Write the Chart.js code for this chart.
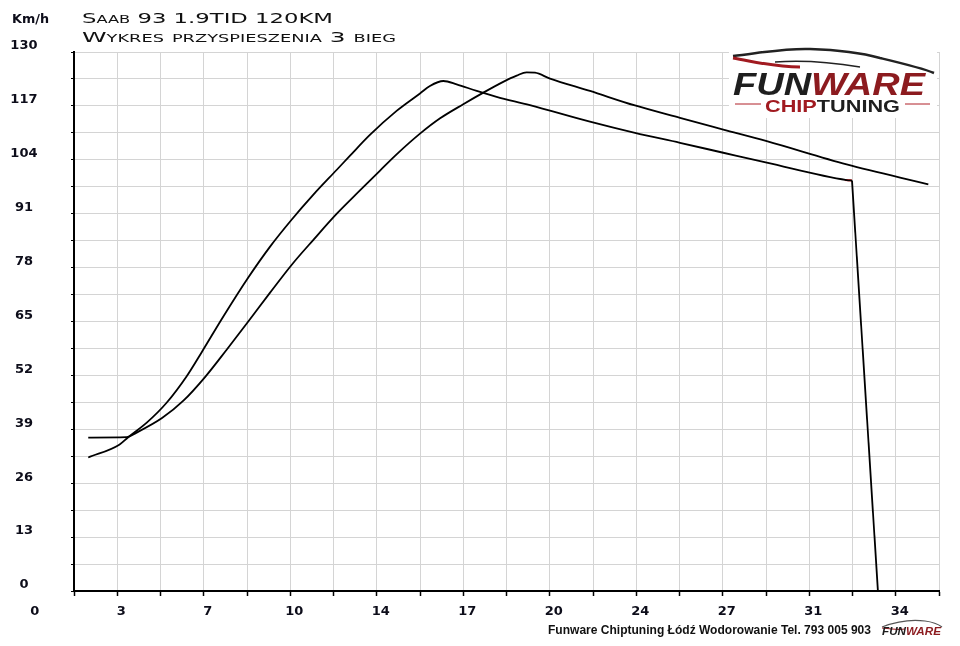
<!DOCTYPE html>
<html><head><meta charset="utf-8">
<script src="https://cdn.jsdelivr.net/npm/chart.js@4.4.1/dist/chart.umd.min.js"></script>
<style>
html,body{margin:0;padding:0;background:#fff;width:960px;height:646px;overflow:hidden}
#wrap{position:relative;width:960px;height:646px}
canvas{position:absolute;left:0;top:0}
svg{position:absolute;left:0;top:0;pointer-events:none}
</style></head><body>
<div id="wrap">
<canvas id="c" width="960" height="646"></canvas>
<svg width="960" height="646" xmlns="http://www.w3.org/2000/svg">
  <text x="12" y="23" font-family="DejaVu Sans" font-weight="bold" font-size="13" fill="#0d0d1a" textLength="37" lengthAdjust="spacingAndGlyphs">Km/h</text>
  <text x="82" y="23" font-family="DejaVu Sans" font-size="14" style="font-variant:small-caps" fill="#111" textLength="251" lengthAdjust="spacingAndGlyphs">Saab 93 1.9TID 120KM</text>
  <text x="82" y="42" font-family="DejaVu Sans" font-size="14" style="font-variant:small-caps" fill="#111" textLength="314" lengthAdjust="spacingAndGlyphs">Wykres przyspieszenia 3 bieg</text>

  <rect x="729" y="44" width="208" height="74" fill="#fff"/>
  <path d="M733 56 C 760 53, 785 48, 810 49 C 840 50, 862 53, 880 58 C 905 64, 922 68, 934 73" stroke="#222" stroke-width="2.5" fill="none"/>
  <path d="M775 62 C 800 60, 830 62, 860 67" stroke="#222" stroke-width="1.5" fill="none"/>
  <path d="M733 58 C 752 61, 772 67, 800 67" stroke="#a11a20" stroke-width="3" fill="none"/>
  <text x="733" y="95" font-family="Liberation Sans" font-weight="bold" font-style="italic" font-size="31" textLength="192" lengthAdjust="spacingAndGlyphs"><tspan fill="#1e1e1e">FUN</tspan><tspan fill="#8c1b1f">WARE</tspan></text>
  <line x1="735" y1="104" x2="761" y2="104" stroke="#b02028" stroke-width="1"/>
  <line x1="905" y1="104" x2="930" y2="104" stroke="#b02028" stroke-width="1"/>
  <text x="765" y="112" font-family="Liberation Sans" font-weight="bold" font-size="16.5" textLength="135" lengthAdjust="spacingAndGlyphs"><tspan fill="#a11a20">CHIP</tspan><tspan fill="#1e1e1e">TUNING</tspan></text>

  <text x="548" y="633.5" font-family="Liberation Sans" font-weight="bold" font-size="12" fill="#111" textLength="323" lengthAdjust="spacingAndGlyphs">Funware Chiptuning Łódź Wodorowanie Tel. 793 005 903</text>
  <path d="M882 627 C 895 622, 910 619, 925 621 C 933 622, 938 624, 942 627" stroke="#555" stroke-width="1.2" fill="none"/>
  <path d="M882 628 C 890 629, 898 630, 905 629" stroke="#a11a20" stroke-width="1.2" fill="none"/>
  <text x="882" y="635" font-family="Liberation Sans" font-weight="bold" font-style="italic" font-size="10" textLength="59" lengthAdjust="spacingAndGlyphs"><tspan fill="#1e1e1e">FUN</tspan><tspan fill="#8c1b1f">WARE</tspan></text>
</svg>
</div>
<script>
// Curve A (faster run, ends with drop)
const timeA  = [2.26, 3.48, 3.83, 4.56, 5.34, 6.13, 6.72, 7.57, 8.55, 9.40, 10.26, 11.11, 12.03, 12.55, 13.33, 14.38, 15.30, 15.69, 16.22, 16.74, 17.53, 18.31, 19.62, 21.98, 23.75, 25.52, 27.22, 28.93, 32.07, 32.28];
const speedA = [32.2, 35.3, 37.1, 40.6, 45.4, 51.8, 57.6, 66.2, 75.6, 83.0, 89.6, 95.6, 101.6, 105.0, 110.0, 115.8, 120.0, 121.8, 123.0, 122.2, 120.6, 119.2, 117.2, 113.2, 110.5, 108.1, 105.7, 103.3, 99.1, 99.0];
// Curve B
const timeB  = [2.26, 3.77, 4.16, 5.16, 6.00, 6.85, 7.70, 8.55, 9.40, 10.26, 11.11, 12.03, 12.94, 13.73, 14.38, 15.30, 16.09, 17.00, 17.79, 18.57, 19.10, 19.49, 19.82, 20.41, 21.98, 23.75, 25.52, 27.22, 28.93, 32.07, 35.28];
const speedB = [37.0, 37.1, 38.2, 41.7, 45.9, 51.6, 58.2, 65.0, 71.9, 78.7, 84.7, 91.0, 96.6, 101.4, 105.3, 110.3, 114.0, 117.4, 120.2, 122.8, 124.3, 125.1, 125.0, 123.6, 120.6, 117.1, 114.1, 111.3, 108.5, 102.9, 98.1];
// final drop of curve A
const dropTime  = [32.28, 33.30];
const dropSpeed = [99.0, 0];
// red marker at end of curve A
const markTime  = [32.0, 32.28];
const markSpeed = [99.1, 99.0];
// axis tick labels
const xTickLabels = [0, 3, 7, 10, 14, 17, 20, 24, 27, 31, 34];
const yTickLabels = [0, 13, 26, 39, 52, 65, 78, 91, 104, 117, 130];
const xGridStep = 1.7;   // seconds per grid line
const yGridStep = 6.5;   // km/h per grid line

const pts = (xs, ys) => xs.map((x, i) => ({x: x, y: ys[i]}));
const tickFont = {family: 'DejaVu Sans', size: 13, weight: 'bold'};

new Chart(document.getElementById('c'), {
  type: 'line',
  data: {
    datasets: [
      {data: pts(timeA, speedA), borderColor: '#000', borderWidth: 1.8, pointRadius: 0, cubicInterpolationMode: 'monotone', fill: false},
      {data: pts(timeB, speedB), borderColor: '#000', borderWidth: 1.8, pointRadius: 0, cubicInterpolationMode: 'monotone', fill: false},
      {data: pts(dropTime, dropSpeed), borderColor: '#000', borderWidth: 1.8, pointRadius: 0, tension: 0, fill: false},
      {data: pts(markTime, markSpeed), borderColor: '#ff1a1a', borderWidth: 2, pointRadius: 0, tension: 0, fill: false}
    ]
  },
  options: {
    responsive: false,
    animation: false,
    events: [],
    layout: {padding: {top: 52, right: 21, left: 0, bottom: 0}},
    plugins: {legend: {display: false}, tooltip: {enabled: false}, title: {display: false}},
    scales: {
      x: {
        type: 'linear',
        min: xGridStep,
        max: xGridStep * 21,
        afterBuildTicks: (s) => {
          const t = [];
          for (let k = 0; k <= 21; k++) t.push({value: k * xGridStep});
          s.ticks = t;
        },
        afterFit: (s) => { s.height = 55; },
        grid: {
          color: (ctx) => ctx.index === 0 ? 'rgba(0,0,0,0)' : '#d4d4d4',
          tickColor: (ctx) => ctx.index === 0 ? 'rgba(0,0,0,0)' : '#000',
          lineWidth: 1,
          tickLength: 5,
          tickWidth: 1.5,
          drawTicks: true
        },
        border: {color: '#000', width: 2},
        ticks: {
          autoSkip: false,
          maxRotation: 0,
          minRotation: 0,
          padding: 8,
          labelOffset: 4,
          color: '#0d0d1a',
          font: tickFont,
          callback: (v, i) => (i % 2 === 0 ? String(xTickLabels[i / 2]) : '')
        }
      },
      y: {
        type: 'linear',
        min: 0,
        max: yGridStep * 20,
        afterBuildTicks: (s) => {
          const t = [];
          for (let k = 0; k <= 20; k++) t.push({value: k * yGridStep});
          s.ticks = t;
        },
        afterFit: (s) => { s.width = 74; },
        grid: {color: '#d4d4d4', lineWidth: 1, tickColor: '#000', tickLength: 3, drawTicks: true},
        border: {color: '#000', width: 2},
        ticks: {
          autoSkip: false,
          crossAlign: 'center',
          padding: 33.5,
          labelOffset: -6,
          color: '#0d0d1a',
          font: tickFont,
          callback: (v, i) => (i % 2 === 0 ? String(yTickLabels[i / 2]) : '')
        }
      }
    }
  }
});
</script>
</body></html>
